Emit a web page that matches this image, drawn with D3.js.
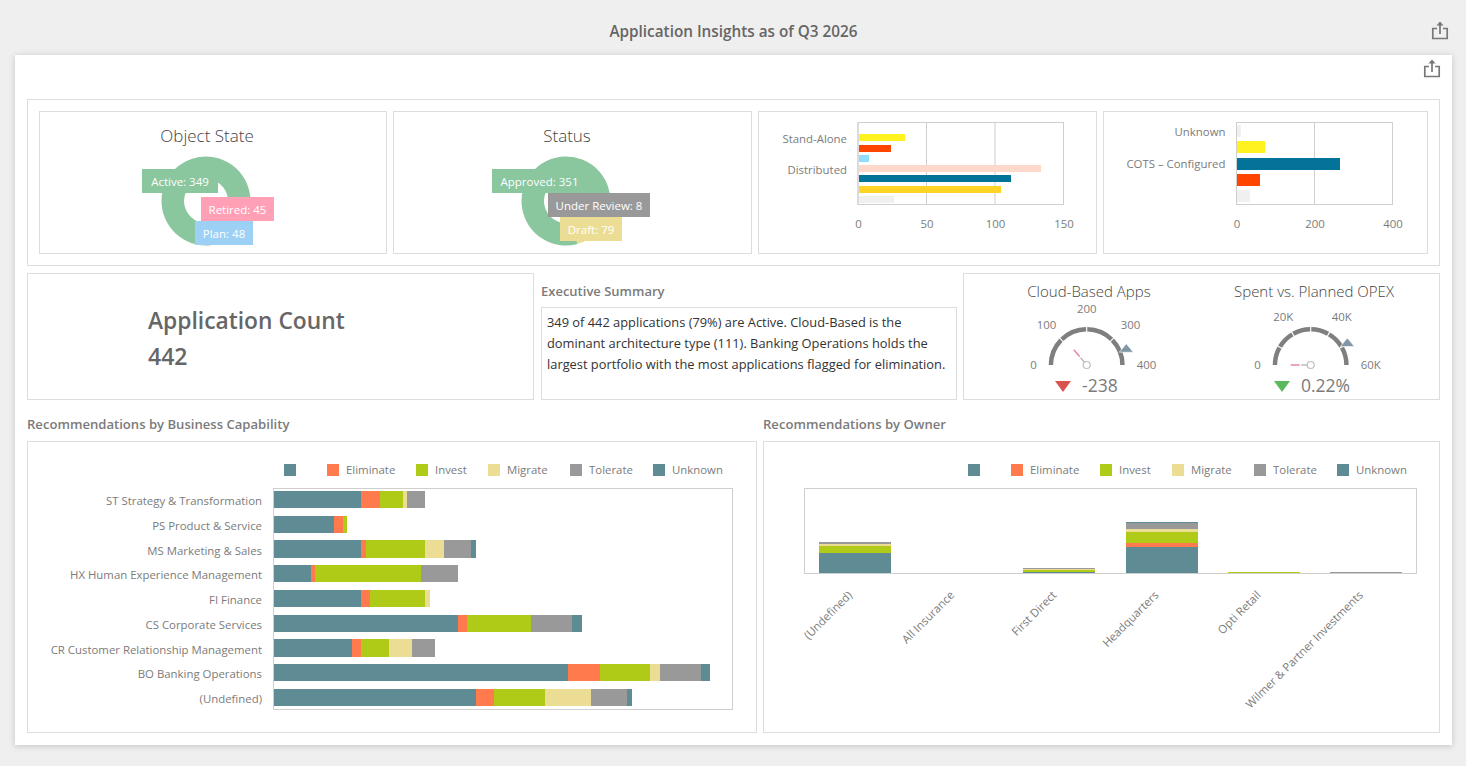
<!DOCTYPE html>
<html>
<head>
<meta charset="utf-8">
<title>Application Insights</title>
<script src="https://d3js.org/d3.v7.min.js"></script>
<style>
    body { margin: 0; background: #efefef; }
    svg { display: block; }
    text { font-family: "Open Sans", "Noto Sans", sans-serif; }
</style>
</head>
<body>
<div id="my_dataviz"></div>

<script>
    // donuts
    var objectStateLabels = ["Active", "Retired", "Plan"];
    var objectStateValues = [349, 45, 48];
    var statusLabels = ["Approved", "Under Review", "Draft"];
    var statusValues = [351, 8, 79];

    // small bar charts (only some of the categories get a label)
    var archLabels = ["", "Stand-Alone", " ", "  ", "Distributed", "   ", "    ", "     "];
    var archValues = [0, 34, 24, 8, 133, 111, 104, 26];
    var archTicks = [0, 50, 100, 150];
    var typeLabels = ["Unknown", " ", "COTS – Configured", "  ", "   "];
    var typeValues = [11, 71, 265, 58, 33];
    var typeTicks = [0, 200, 400];

    // gauges
    var cloudTicks = [0, 100, 200, 300, 400];
    var cloudLabels = [0, 100, 200, 300, 400];
    var cloudValue = 111, cloudTarget = 349, cloudDelta = "-238";
    var opexTicks = [0, 10000, 20000, 30000, 40000, 50000, 60000];
    var opexLabels = [0, 20000, 40000, 60000];
    var opexValue = 110, opexTarget = 49500, opexDelta = "0.22%";

    // recommendations
    var seriesNames = ["", "Eliminate", "Invest", "Migrate", "Tolerate", "Unknown"];
    var seriesColors = ["#5f8b95", "#ff7b4d", "#afcb18", "#ecdd94", "#999999", "#5f8b95"];

    var capCategories = ["ST Strategy & Transformation", "PS Product & Service", "MS Marketing & Sales",
        "HX Human Experience Management", "FI Finance", "CS Corporate Services",
        "CR Customer Relationship Management", "BO Banking Operations", "(Undefined)"];
    var capBlank = [19, 13, 19, 8, 19, 40, 17, 64, 44];
    var capEliminate = [4, 2, 1, 1, 2, 2, 2, 7, 4];
    var capInvest = [5, 1, 13, 23, 12, 14, 6, 11, 11];
    var capMigrate = [1, 0, 4, 0, 1, 0, 5, 2, 10];
    var capTolerate = [4, 0, 6, 8, 0, 9, 5, 9, 8];
    var capUnknown = [0, 0, 1, 0, 0, 2, 0, 2, 1];

    var ownerCategories = ["(Undefined)", "All Insurance", "First Direct", "Headquarters", "Opti Retail", "Wilmer & Partner Investments"];
    var ownerBlank = [94, 0, 5, 122, 0, 0];
    var ownerEliminate = [0, 0, 0, 19, 0, 0];
    var ownerInvest = [33, 0, 9, 52, 5, 0];
    var ownerMigrate = [9, 0, 5, 14, 0, 0];
    var ownerTolerate = [9, 0, 5, 28, 0, 5];
    var ownerUnknown = [0, 0, 0, 5, 0, 0];

    var svg = d3.select("#my_dataviz")
        .append("svg")
        .attr("width", 1466)
        .attr("height", 766);

    var GREY = "#7b7b7b", BORDER = "#dddddd", PLOT_BORDER = "#cfcfcf";
    var AXIS_FONT = 11.4;

    function box(x0, y0, x1, y1, stroke) {
        svg.append("rect")
            .attr("x", x0 + 0.5).attr("y", y0 + 0.5)
            .attr("width", x1 - x0 - 1).attr("height", y1 - y0 - 1)
            .attr("fill", "none")
            .attr("stroke", stroke || BORDER);
    }

    function label(x, y, str, size, color, anchor, weight) {
        return svg.append("text")
            .attr("x", x).attr("y", y)
            .attr("dy", "0.35em")
            .attr("font-size", size)
            .attr("fill", color)
            .attr("text-anchor", anchor || "start")
            .attr("font-weight", weight || 400)
            .text(str);
    }

    function shareIcon(cx, cy) {
        var g = svg.append("g")
            .attr("transform", "translate(" + cx + "," + cy + ")")
            .attr("fill", "none")
            .attr("stroke", "#777")
            .attr("stroke-width", 1.7);
        g.append("path").attr("d", "M-3,-2.5H-7.2V7.5H7.2V-2.5H3");
        g.append("path").attr("d", "M0,3V-8");
        g.append("path").attr("d", "M-3.5,-5.5L0,-9.5L3.5,-5.5Z").attr("fill", "#777").attr("stroke", "none");
    }

    // page
    label(733.5, 31.5, "Application Insights as of Q3 2026", 15.3, "#666", "middle", 600);
    shareIcon(1440, 31);
    svg.append("rect")
        .attr("x", 15).attr("y", 55)
        .attr("width", 1437).attr("height", 690)
        .attr("fill", "#fff")
        .style("filter", "drop-shadow(0 1px 3px rgba(0,0,0,0.18))");
    shareIcon(1432, 69);

    box(27, 99, 1440, 266);
    box(39, 111, 387, 254);
    box(393, 111, 752, 254);
    box(758, 111, 1097, 254);
    box(1103, 111, 1428, 254);
    box(27, 273, 534, 400);
    box(541, 307, 957, 400);
    box(963, 273, 1440, 400);
    box(27, 441, 757, 733);
    box(763, 441, 1440, 733);

    // donuts with boxed labels on top of the ring
    var deg = Math.PI / 180;

    function donut(cx, cy, title, names, values, colors, startDeg, boxes) {
        label(cx + 1, 136, title, 17, "#444", "middle", 300);
        var pie = d3.pie().sort(null)
            .startAngle(startDeg * deg)
            .endAngle((startDeg + 360) * deg);
        var arc = d3.arc().innerRadius(22).outerRadius(44.5);
        var g = svg.append("g").attr("transform", "translate(" + cx + "," + cy + ")");
        g.selectAll("path")
            .data(pie(values))
            .enter()
            .append("path")
            .attr("d", arc)
            .attr("fill", function(d, i) { return colors[i]; });
        names.forEach(function(name, i) {
            var b = boxes[i];
            svg.append("rect")
                .attr("x", b[0]).attr("y", b[1])
                .attr("width", b[2] - b[0]).attr("height", 24)
                .attr("fill", colors[i]);
            label((b[0] + b[2]) / 2, b[1] + 12.5, name + ": " + values[i], 11.5, "#fff", "middle");
        });
    }

    donut(206, 201, "Object State", objectStateLabels, objectStateValues,
        ["#8ac69e", "#ffa0b7", "#9dd0f5"], 176,
        [[142, 169, 218], [201, 197, 274], [195, 221, 253]]);
    donut(566, 201, "Status", statusLabels, statusValues,
        ["#8ac69e", "#999999", "#ecdd94"], 165,
        [[492, 169, 587], [548, 193, 650], [560, 217, 622]]);

    // horizontal bars with one colour per category
    function smallBars(x0, x1, names, values, colors, ticks, barHeight) {
        var x = d3.scaleLinear().domain([0, ticks[ticks.length - 1]]).range([x0, x1]);
        var y = d3.scaleBand().domain(names).range([122.5, 204.5]);
        svg.append("g").selectAll("line")
            .data(ticks)
            .enter()
            .append("line")
            .attr("x1", x).attr("x2", x)
            .attr("y1", 122.5).attr("y2", 204.5)
            .attr("stroke", PLOT_BORDER);
        svg.append("rect")
            .attr("x", x0).attr("y", 122.5)
            .attr("width", x1 - x0).attr("height", 82)
            .attr("fill", "none").attr("stroke", PLOT_BORDER);
        svg.append("g").selectAll("rect")
            .data(values)
            .enter()
            .append("rect")
            .attr("x", x0 + 0.5)
            .attr("y", function(d, i) { return y(names[i]) + (y.bandwidth() - barHeight) / 2; })
            .attr("width", function(d) { return x(d) - x0; })
            .attr("height", barHeight)
            .attr("fill", function(d, i) { return colors[i]; })
            .attr("shape-rendering", "crispEdges");
        var yAxis = svg.append("g")
            .attr("transform", "translate(" + (x0 - 11) + ",1.3)")
            .call(d3.axisLeft(y).tickSize(0).tickPadding(0));
        var xAxis = svg.append("g")
            .attr("transform", "translate(0,219.5)")
            .call(d3.axisBottom(x).tickValues(ticks).tickSize(0).tickPadding(0).tickFormat(d3.format("d")));
        [xAxis, yAxis].forEach(function(a) {
            a.select(".domain").remove();
            a.selectAll("text").attr("font-size", AXIS_FONT).attr("font-family", null).attr("fill", GREY);
        });
    }

    smallBars(858, 1063.5, archLabels, archValues,
        ["#f0f0f0", "#fff21e", "#ff4500", "#8fddff", "#ffd8cc", "#04739a", "#ffd426", "#f0f0f0"],
        archTicks, 7);
    smallBars(1236.5, 1392.5, typeLabels, typeValues,
        ["#f0f0f0", "#fff21e", "#04739a", "#ff4500", "#f0f0f0"],
        typeTicks, 12);

    // KPI and summary
    label(148, 321, "Application Count", 22.8, "#666", "start", 600);
    label(148, 357, "442", 23, "#666", "start", 600);
    label(541, 291.5, "Executive Summary", 13, GREY, "start", 600);
    label(547, 323, "349 of 442 applications (79%) are Active. Cloud-Based is the", 12.85, "#333");
    label(547, 344, "dominant architecture type (111). Banking Operations holds the", 12.85, "#333");
    label(547, 365, "largest portfolio with the most applications flagged for elimination.", 12.85, "#333");

    // gauges
    function gauge(cx, title, titleX, ticks, tickLabels, value, target, delta, good, fmt, markX, textX) {
        var cy = 365;
        var max = ticks[ticks.length - 1];
        var a = d3.scaleLinear().domain([0, max]).range([-90 * deg, 90 * deg]);
        var arc = d3.arc().innerRadius(33.5).outerRadius(38);
        var gap = 0.9 * deg;
        var g = svg.append("g").attr("transform", "translate(" + cx + "," + cy + ")");

        label(titleX, 291.5, title, 15, "#444", "middle", 300);

        g.selectAll(".seg")
            .data(d3.pairs(ticks))
            .enter()
            .append("path")
            .attr("d", function(d, i) {
                return arc({
                    startAngle: a(d[0]) + (i ? gap : 0),
                    endAngle: a(d[1]) - (i < ticks.length - 2 ? gap : 0)
                });
            })
            .attr("fill", "#7f7f7f");

        // needle, in two pieces around a small hub
        var va = a(value);
        function needle(r0, r1, color) {
            g.append("line")
                .attr("x1", r0 * Math.sin(va)).attr("y1", -r0 * Math.cos(va))
                .attr("x2", r1 * Math.sin(va)).attr("y2", -r1 * Math.cos(va))
                .attr("stroke", color).attr("stroke-width", 1.5);
        }
        needle(3.7, 9.5, "#bdbdbd");
        needle(11, 20, "#e58a9a");
        g.append("circle").attr("r", 3.5).attr("fill", "#fff").attr("stroke", "#bdbdbd").attr("stroke-width", 1.2);

        // target marker
        var ta = a(target);
        var tx = 43 * Math.sin(ta), ty = -43 * Math.cos(ta);
        g.append("path")
            .attr("d", "M" + (tx - 7) + "," + (ty + 4) + "L" + (tx + 7) + "," + (ty + 4) + "L" + tx + "," + (ty - 4.5) + "Z")
            .attr("fill", "#7f97a8").attr("stroke", "#fff").attr("stroke-width", 0.6);

        // scale labels
        g.selectAll(".tick-label")
            .data(tickLabels)
            .enter()
            .append("text")
            .attr("font-size", AXIS_FONT)
            .attr("fill", GREY)
            .attr("text-anchor", "middle")
            .attr("dy", "0.35em")
            .text(fmt)
            .attr("x", function(d) {
                var w = this.getComputedTextLength();
                var s = Math.sin(a(d));
                var nudge = s > 0 && s < 0.99 ? 3.5 : 0;
                return s * (50 + w / 2 * Math.abs(s)) + nudge;
            })
            .attr("y", function(d) { return -Math.cos(a(d)) * 56; });

        // delta indicator
        svg.append("path")
            .attr("transform", "translate(" + markX + ",381)")
            .attr("d", "M-8,0L8,0L0,11Z")
            .attr("fill", good ? "#5cb85c" : "#d9534f");
        label(textX, 386, delta, 17.5, GREY);
    }

    gauge(1086.7, "Cloud-Based Apps", 1089, cloudTicks, cloudLabels, cloudValue, cloudTarget, cloudDelta, false,
        function(d) { return d; }, 1063, 1082);
    gauge(1310.7, "Spent vs. Planned OPEX", 1314, opexTicks, opexLabels, opexValue, opexTarget, opexDelta, true,
        function(d) { return d ? d / 1000 + "K" : "0"; }, 1282, 1301);

    // section titles and legends
    label(27, 424.5, "Recommendations by Business Capability", 13.1, GREY, "start", 600);
    label(763, 424.5, "Recommendations by Owner", 13.1, GREY, "start", 600);

    var legendX = [284, 327, 416, 488, 570, 653];

    function legend(offset) {
        var item = svg.append("g").selectAll("g")
            .data(seriesNames)
            .enter()
            .append("g")
            .attr("transform", function(d, i) { return "translate(" + (legendX[i] + offset) + ",464)"; });
        item.append("rect")
            .attr("width", 12).attr("height", 12)
            .attr("fill", function(d, i) { return seriesColors[i]; });
        item.append("text")
            .attr("x", 19).attr("y", 6)
            .attr("dy", "0.35em")
            .attr("font-size", AXIS_FONT)
            .attr("fill", GREY)
            .text(function(d) { return d; });
    }
    legend(0);
    legend(684);

    // stack the named series into one table per chart
    function makeStack(categories, columns) {
        var rows = categories.map(function(c, i) {
            var row = { category: c };
            seriesNames.forEach(function(s, j) { row[s] = columns[j][i]; });
            return row;
        });
        return d3.stack().keys(seriesNames)(rows);
    }

    // business capability, horizontal
    var capX = d3.scaleLinear().domain([0, 100]).range([274, 733]);
    var capY = d3.scaleBand().domain(capCategories).range([491, 706]).paddingInner(0.31);
    var capStack = makeStack(capCategories, [capBlank, capEliminate, capInvest, capMigrate, capTolerate, capUnknown]);

    svg.append("g").selectAll("g")
        .data(capStack)
        .enter()
        .append("g")
        .attr("fill", function(d, i) { return seriesColors[i]; })
        .selectAll("rect")
        .data(function(d) { return d; })
        .enter()
        .append("rect")
        .attr("x", function(d) { return capX(d[0]); })
        .attr("y", function(d) { return capY(d.data.category); })
        .attr("width", function(d) { return capX(d[1]) - capX(d[0]); })
        .attr("height", capY.bandwidth())
        .attr("shape-rendering", "crispEdges");
    box(273, 488, 733, 710, PLOT_BORDER);

    var capAxis = svg.append("g")
        .attr("transform", "translate(262,2)")
        .call(d3.axisLeft(capY).tickSize(0).tickPadding(0));
    capAxis.select(".domain").remove();
    capAxis.selectAll("text").attr("font-size", AXIS_FONT).attr("font-family", null).attr("fill", GREY);

    // owner, vertical
    var ownerX = d3.scaleBand().domain(ownerCategories).range([804, 1417]).paddingInner(0.295).paddingOuter(0.1475);
    var ownerY = d3.scaleLinear().domain([0, 400]).range([573, 488]);
    var ownerStack = makeStack(ownerCategories, [ownerBlank, ownerEliminate, ownerInvest, ownerMigrate, ownerTolerate, ownerUnknown]);

    svg.append("g").selectAll("g")
        .data(ownerStack)
        .enter()
        .append("g")
        .attr("fill", function(d, i) { return seriesColors[i]; })
        .selectAll("rect")
        .data(function(d) { return d; })
        .enter()
        .append("rect")
        .attr("x", function(d) { return ownerX(d.data.category); })
        .attr("y", function(d) { return ownerY(d[1]); })
        .attr("width", ownerX.bandwidth())
        .attr("height", function(d) { return ownerY(d[0]) - ownerY(d[1]); })
        .attr("shape-rendering", "crispEdges");
    box(804, 488, 1417, 574, PLOT_BORDER);

    var ownerAxis = svg.append("g")
        .attr("transform", "translate(0,583)")
        .call(d3.axisBottom(ownerX).tickSize(0).tickPadding(0));
    ownerAxis.select(".domain").remove();
    ownerAxis.selectAll("text")
        .attr("font-size", AXIS_FONT)
        .attr("font-family", null)
        .attr("fill", GREY)
        .attr("text-anchor", "end")
        .attr("dy", "0.35em")
        .attr("y", 0)
        .attr("transform", "translate(-5,10)rotate(-45)");
</script>
</body>
</html>
